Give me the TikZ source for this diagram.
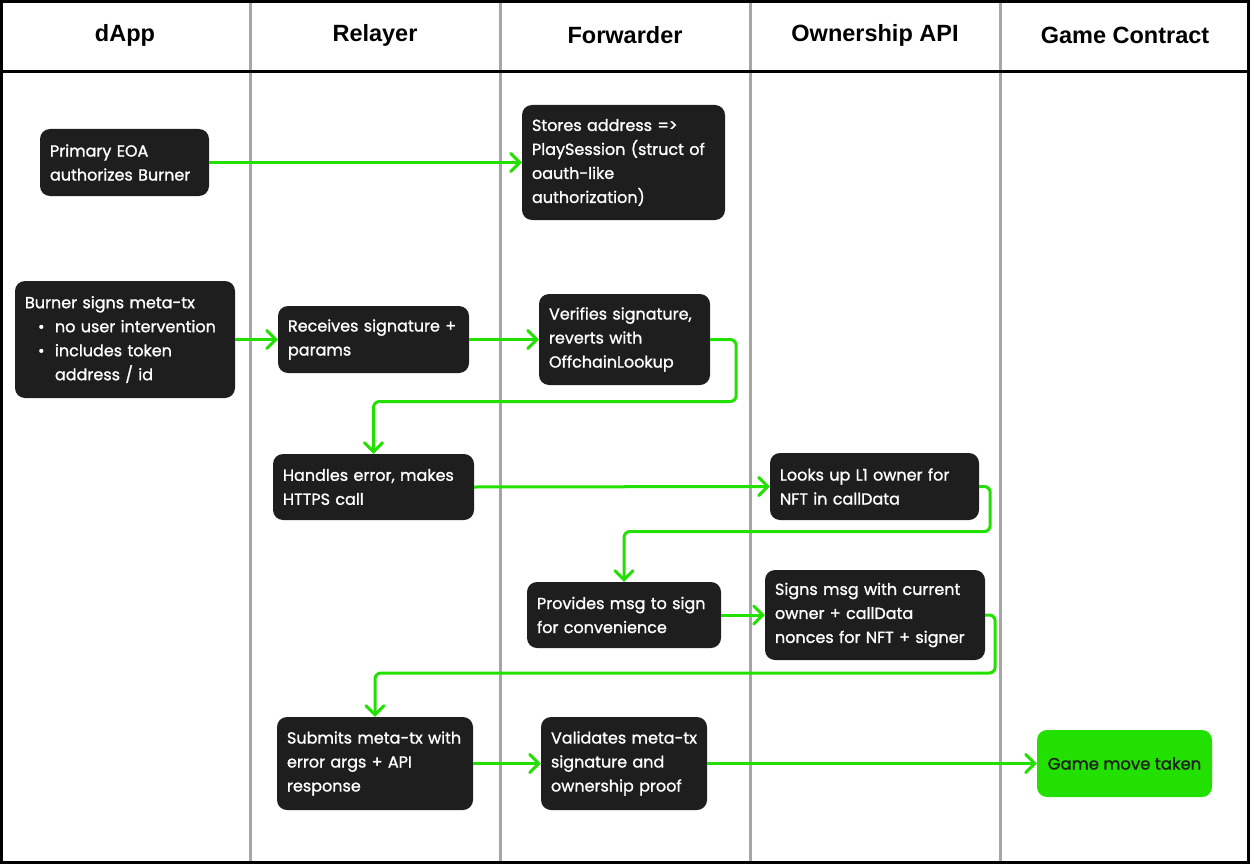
\documentclass[tikz,border=0pt]{standalone}
\usepackage{fontspec}
\setmainfont{Poppins}[FakeBold=1.2]
\newfontfamily\headfont{Liberation Sans}
\usetikzlibrary{arrows.meta}
\definecolor{boxdark}{HTML}{1E1E1E}
\definecolor{flowgreen}{HTML}{22E000}
\definecolor{lanegray}{HTML}{A6A6A6}
\newcommand{\Rw}[1]{\mbox{#1}}
\tikzset{
  stepbox/.style={fill=boxdark, text=white, rounded corners=10pt, align=left, inner sep=0pt, font=\fontsize{16}{24}\selectfont},
  endbox/.style={fill=flowgreen, text=boxdark, rounded corners=10pt, align=center, inner sep=0pt, font=\fontsize{16.5}{24}\selectfont},
  flow/.style={draw=flowgreen, line width=3pt, rounded corners=6pt, -{Straight Barb[length=9pt,width=18pt,line cap=round]}},
  lanehead/.style={font=\headfont\bfseries\fontsize{23.5}{26}\selectfont, text=black},
}
\begin{document}
\begin{tikzpicture}[x=1pt,y=-1pt]
\useasboundingbox (0,0) rectangle (1250,864);
% lanes
\foreach \xx in {250,500,750,1000} \draw[lanegray, line width=3pt] (\xx,0) -- (\xx,864);
\draw[black, line width=3pt] (0,72) -- (1250,72);
\draw[black, line width=3pt] (1.5,1.5) rectangle (1248.5,862.5);
% headers
\node[lanehead] (h1) at (125,35) {dApp};
\node[lanehead] (h2) at (375,35) {Relayer};
\node[lanehead] (h3) at (625,35) {Forwarder};
\node[lanehead] (h4) at (875,35) {Ownership API};
\node[lanehead] (h5) at (1125,35) {Game Contract};
% boxes
\node[stepbox, minimum width=169pt, minimum height=67pt, text width=149pt] (b1) at (124.5,162.5) {\Rw{Primary EOA}\\\Rw{authorizes Burner}};
\node[stepbox, minimum width=203pt, minimum height=115pt, text width=183pt] (b2) at (623.5,162.5) {\Rw{Stores address =>}\\\Rw{PlaySession (struct of}\\\Rw{oauth-like}\\\Rw{authorization)}};
\node[stepbox, minimum width=220pt, minimum height=117pt, text width=200pt] (b3) at (125,339.5) {\Rw{Burner signs meta-tx}\\\Rw{\hspace*{13pt}\makebox[17pt][l]{\textbullet}no user intervention}\\\Rw{\hspace*{13pt}\makebox[17pt][l]{\textbullet}includes token}\\\Rw{\hspace*{30pt}address / id}};
\node[stepbox, minimum width=191pt, minimum height=67pt, text width=171pt] (b4) at (373.5,339.5) {\Rw{Receives signature +}\\\Rw{params}};
\node[stepbox, minimum width=171pt, minimum height=91pt, text width=151pt] (b5) at (624.5,339.5) {\Rw{Verifies signature,}\\\Rw{reverts with}\\\Rw{OffchainLookup}};
\node[stepbox, minimum width=201pt, minimum height=66pt, text width=181pt] (b6) at (373.5,487) {\Rw{Handles error, makes}\\\Rw{HTTPS call}};
\node[stepbox, minimum width=209pt, minimum height=67pt, text width=189pt] (b7) at (874.5,486.5) {\Rw{Looks up L1 owner for}\\\Rw{NFT in callData}};
\node[stepbox, minimum width=194pt, minimum height=66pt, text width=174pt] (b8) at (624,615) {\Rw{Provides msg to sign}\\\Rw{for convenience}};
\node[stepbox, minimum width=220pt, minimum height=90pt, text width=200pt] (b9) at (875,615) {\Rw{Signs msg with current}\\\Rw{owner + callData}\\\Rw{nonces for NFT + signer}};
\node[stepbox, minimum width=196pt, minimum height=93pt, text width=176pt] (b10) at (375,763.5) {\Rw{Submits meta-tx with}\\\Rw{error args + API}\\\Rw{response}};
\node[stepbox, minimum width=166pt, minimum height=93pt, text width=146pt] (b11) at (624,763.5) {\Rw{Validates meta-tx}\\\Rw{signature and}\\\Rw{ownership proof}};
\node[endbox, minimum width=175pt, minimum height=67pt] (b12) at (1124.5,763.5) {Game move taken};
% flows
\draw[flow] (b1.east) -- (b2.west);
\draw[flow] (b3.east) -- (b4.west);
\draw[flow] (b4.east) -- (b5.west);
\draw[flow] (b5.east) -- ++(26,0) -- ++(0,62) -| (b6.north);
\draw[flow] (b6.east) -- (b7.west);
\draw[flow] (b7.east) -- ++(11,0) -- ++(0,45) -| (b8.north);
\draw[flow] (b8.east) -- (b9.west);
\draw[flow] (b9.east) -- ++(10,0) -- ++(0,58) -| (b10.north);
\draw[flow] (b10.east) -- (b11.west);
\draw[flow] (b11.east) -- (b12.west);
\end{tikzpicture}
\end{document}
